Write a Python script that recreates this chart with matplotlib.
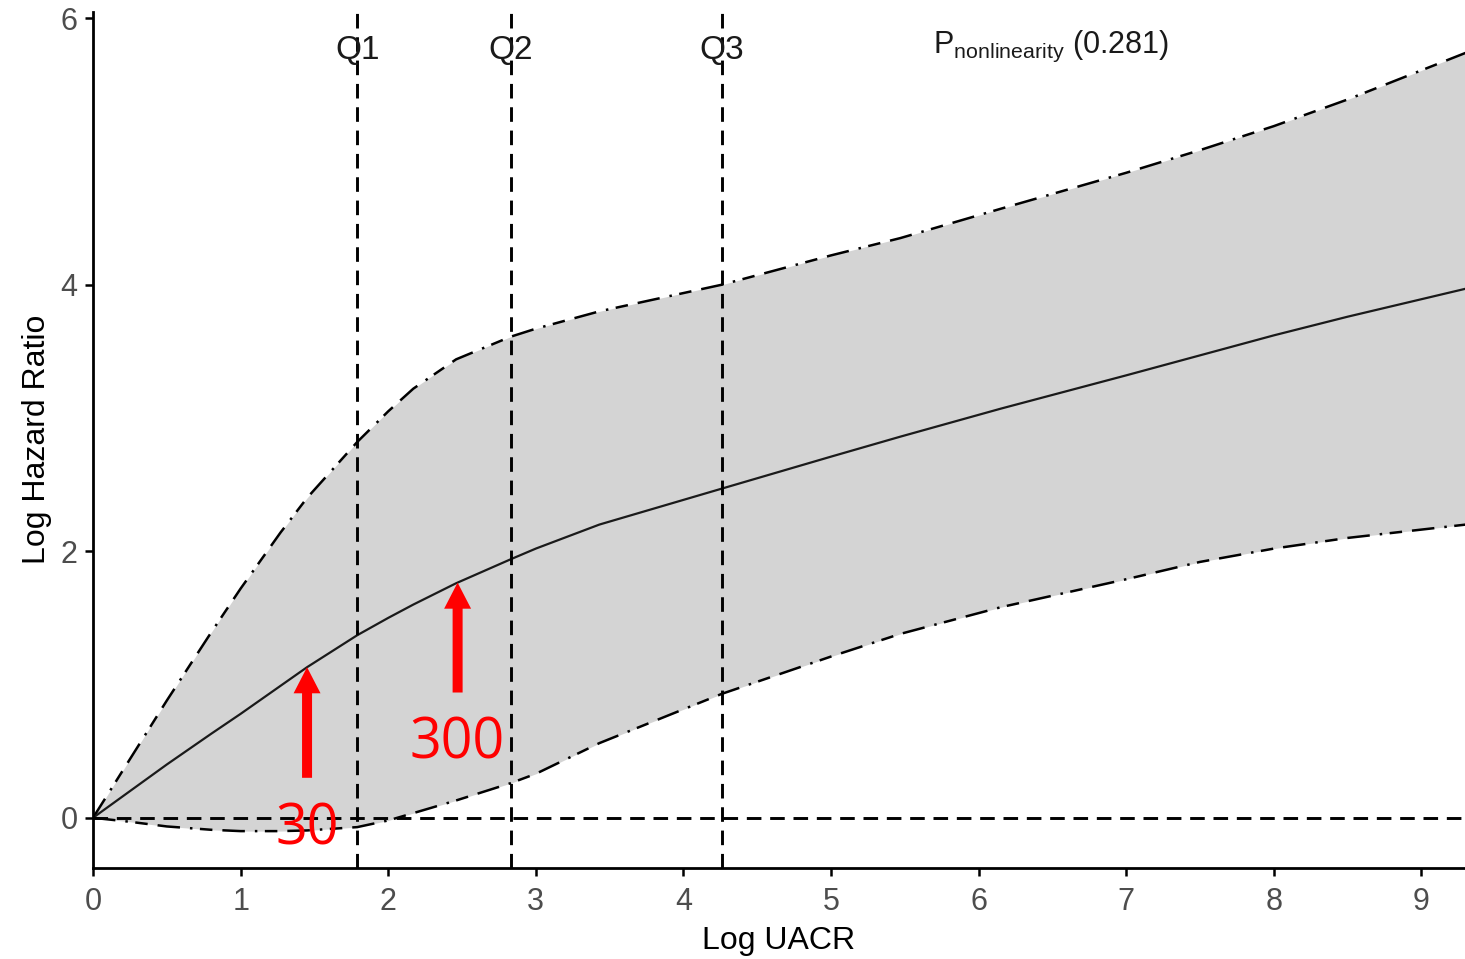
import numpy as np
import matplotlib
matplotlib.use("Agg")
import matplotlib.pyplot as plt

plt.rcParams['font.family'] = ['Liberation Sans', 'DejaVu Sans']
plt.rcParams['mathtext.fontset'] = 'custom'
plt.rcParams['mathtext.rm'] = 'Liberation Sans'
plt.rcParams['mathtext.it'] = 'Liberation Sans:italic'

# spline estimate
log_uacr = [0, 0.25, 0.5, 0.8, 1.0, 1.27, 1.45, 1.79, 2.0, 2.17, 2.46, 2.83,
            3.0, 3.43, 4.26, 5.0, 5.47, 6.15, 7.0, 7.5, 8.0, 8.5, 9.3]
log_hr = [0, 0.20, 0.40, 0.63, 0.78, 0.99, 1.13, 1.37, 1.50, 1.60, 1.76, 1.94,
          2.02, 2.20, 2.47, 2.71, 2.86, 3.07, 3.32, 3.47, 3.62, 3.76, 3.97]
upper = [0, 0.44, 0.88, 1.39, 1.72, 2.14, 2.40, 2.82, 3.05, 3.22, 3.44, 3.61,
         3.67, 3.80, 4.00, 4.22, 4.35, 4.57, 4.84, 5.01, 5.19, 5.39, 5.74]
lower = [0, -0.03, -0.065, -0.09, -0.10, -0.10, -0.095, -0.07, -0.02, 0.035, 0.13, 0.26,
         0.33, 0.56, 0.93, 1.21, 1.38, 1.58, 1.79, 1.92, 2.02, 2.10, 2.20]

quartiles = [1.79, 2.83, 4.26]
quartile_labels = ['Q1', 'Q2', 'Q3']
p_text = r'P$_{\mathrm{nonlinearity}}$ (0.281)'

arrow_x = [1.45, 2.47]
arrow_tail = [0.30, 0.94]
arrow_labels = ['30', '300']
label_y = [-0.09, 0.55]

fig = plt.figure(figsize=(14.65, 9.59), dpi=100)
ax = fig.add_axes([0.0635, 0.095, 0.9365, 0.893])

ax.fill_between(log_uacr, lower, upper, color='#d4d4d4', lw=0)
bound_dash = (9, 4, 1, 3, 5, 4)
ax.plot(log_uacr, upper, color='black', lw=1.8, dashes=bound_dash)
ax.plot(log_uacr, lower, color='black', lw=1.8, dashes=bound_dash)
ax.plot(log_uacr, log_hr, color='#1a1a1a', lw=1.6)

ax.axhline(0, color='black', lw=2.1, dashes=(5, 3))
for q, lab in zip(quartiles, quartile_labels):
    ax.axvline(q, color='black', lw=2.1, dashes=(5, 3))
    ax.text(q, 5.69, lab, ha='center', va='baseline', fontsize=24, color='#1a1a1a')

ax.text(5.69, 5.74, p_text, ha='left', va='baseline', fontsize=22, color='#1a1a1a')

# red arrows pointing at the curve
for xa, ya, lab, ly in zip(arrow_x, arrow_tail, arrow_labels, label_y):
    tip = np.interp(xa, log_uacr, log_hr)
    ax.annotate('', xy=(xa, tip), xytext=(xa, ya),
                arrowprops=dict(arrowstyle='simple,head_width=0.97,head_length=0.94,tail_width=0.36',
                                color='red', mutation_scale=20, shrinkA=0, shrinkB=0, lw=0))
    ax.text(xa + 0.0, ly, lab, ha='center', va='center', fontsize=40, color='red',
            family=['Open Sans', 'DejaVu Sans'])

ax.set_xlim(0, 9.295)
ax.set_ylim(-0.376, 6.05)
ax.set_xticks(range(10))
ax.set_yticks([0, 2, 4, 6])

ax.spines['top'].set_visible(False)
ax.spines['right'].set_visible(False)
for s in ['left', 'bottom']:
    ax.spines[s].set_linewidth(2.0)
ax.tick_params(direction='out', length=6, width=1.8, labelsize=22, labelcolor='#4d4d4d', pad=5)
ax.tick_params(axis='x', pad=8)

ax.set_xlabel('Log UACR', fontsize=23, color='black', labelpad=6)
ax.set_ylabel('Log Hazard Ratio', fontsize=23, color='black', labelpad=6)

fig.savefig('out.png', dpi=100)
